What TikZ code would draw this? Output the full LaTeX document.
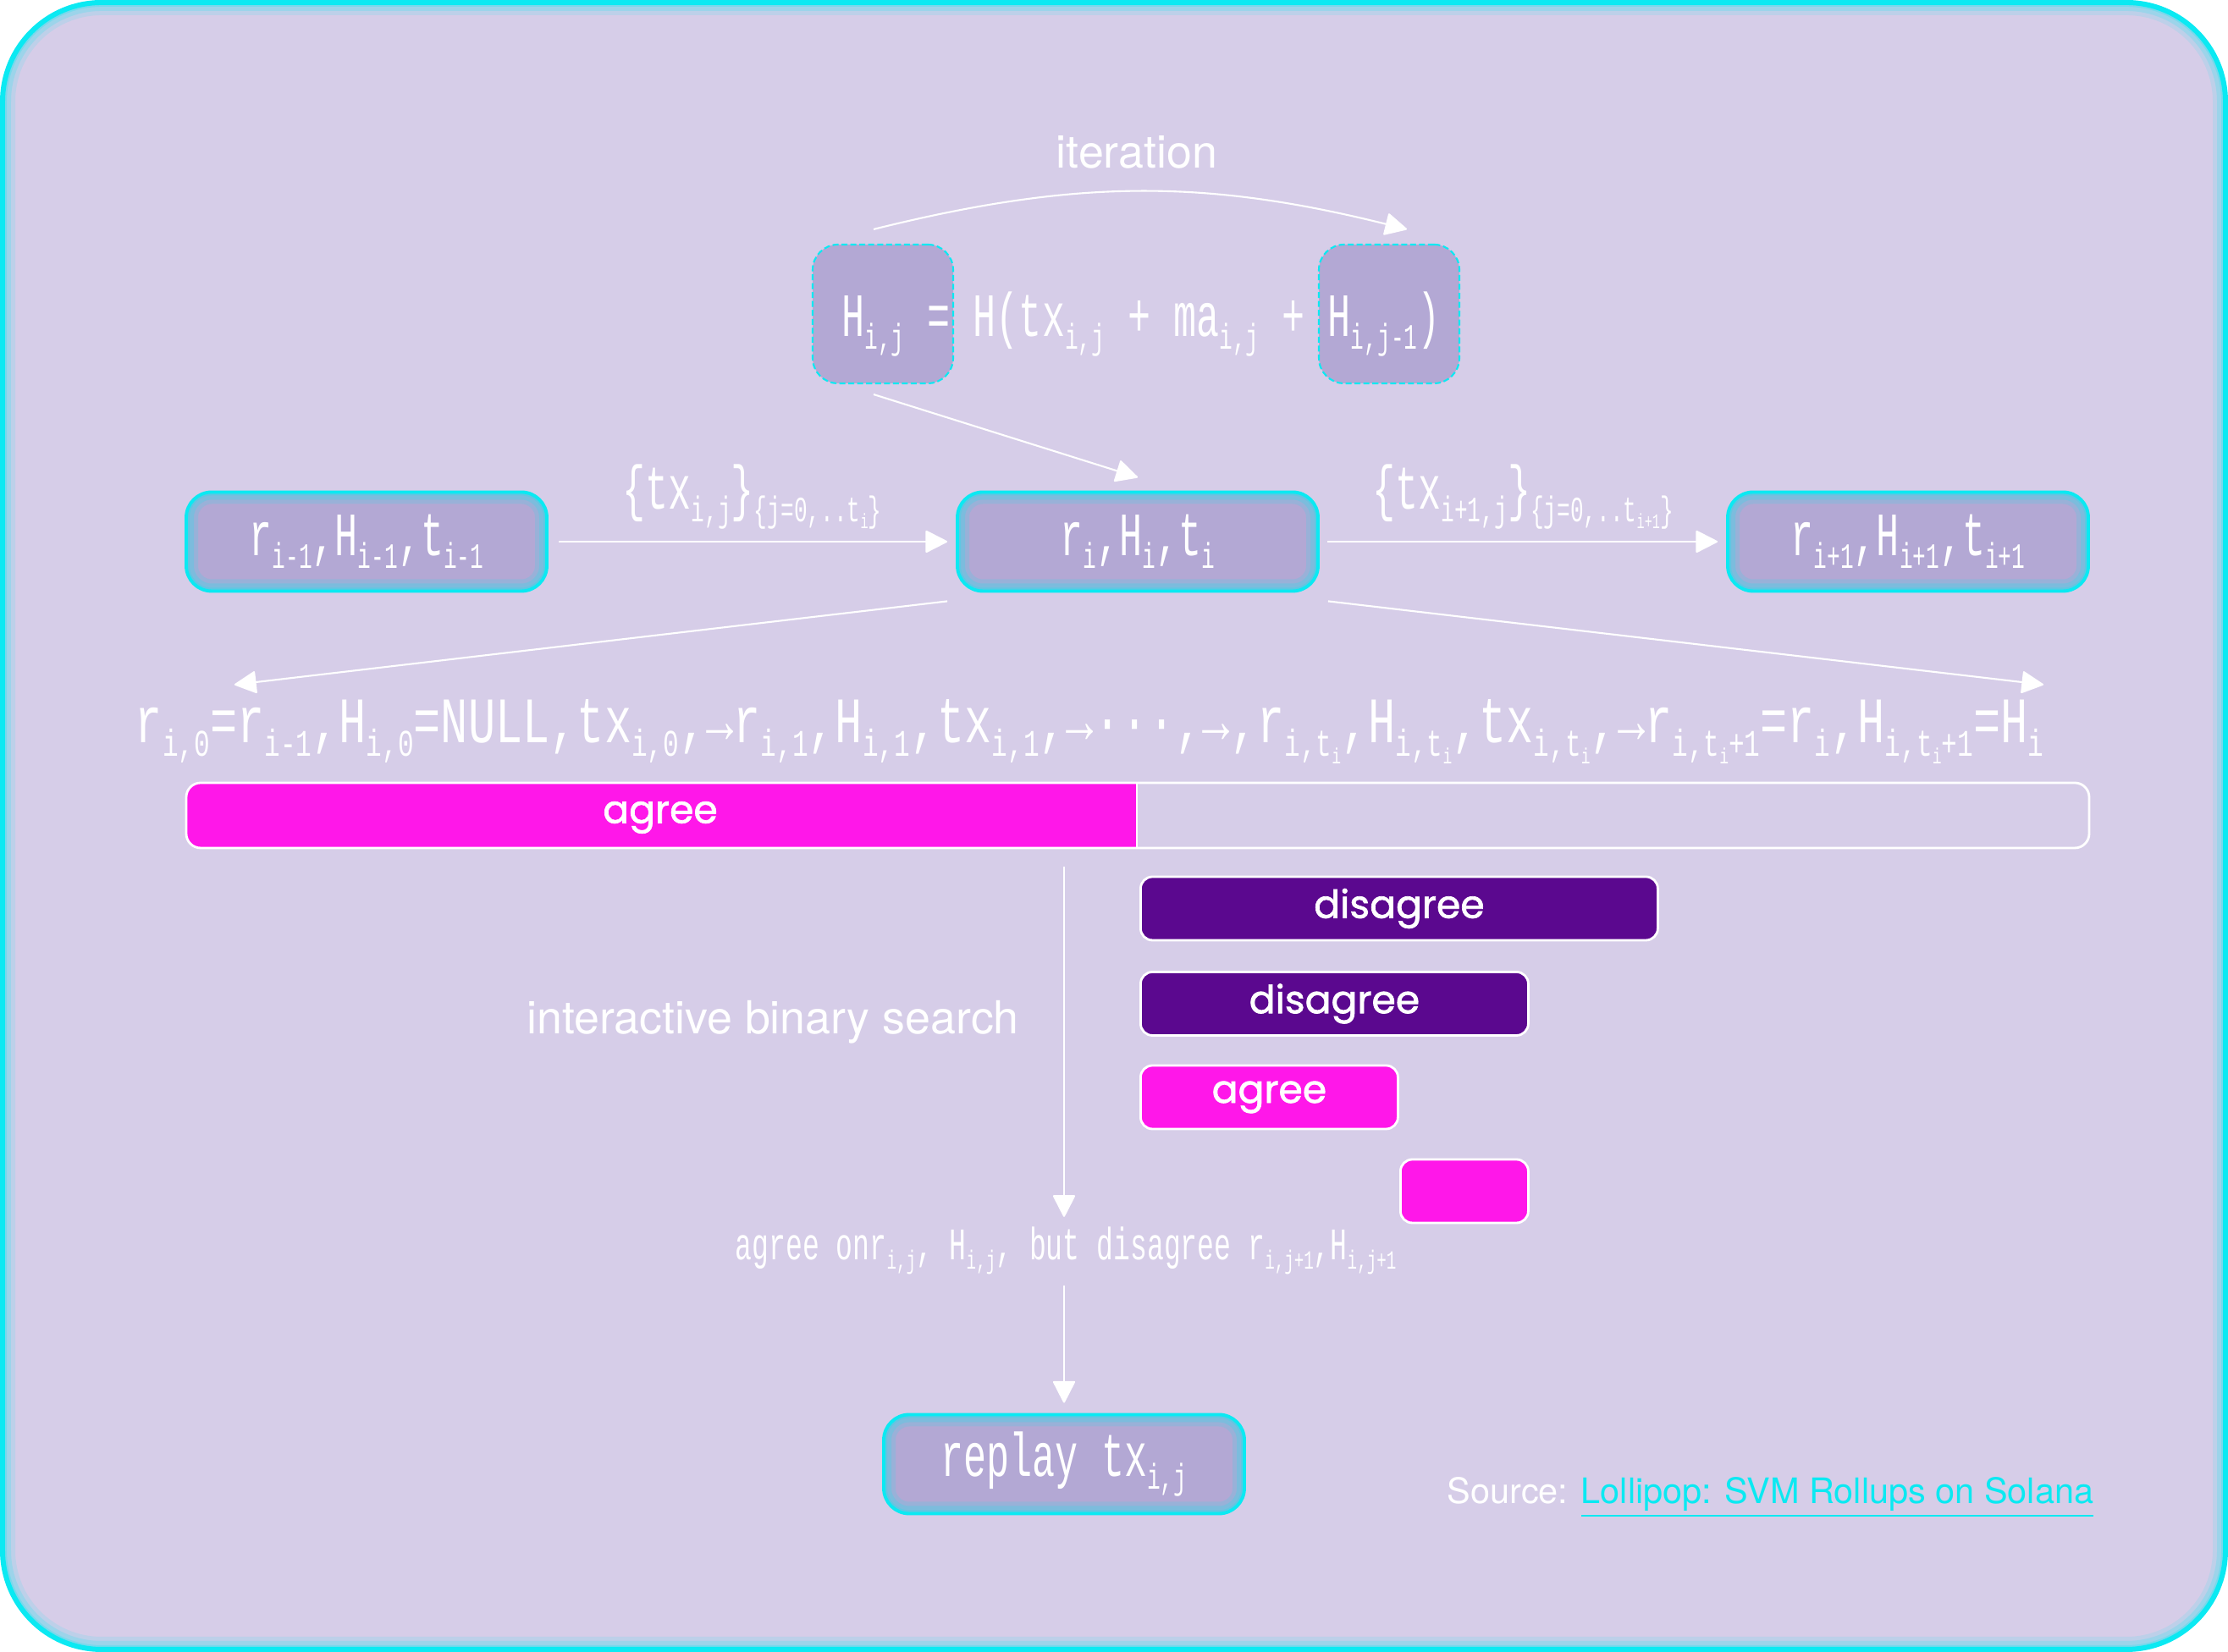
\documentclass[tikz,border=0pt]{standalone}
\usepackage{fontspec}
\usepackage{graphicx}
\usetikzlibrary{arrows.meta,positioning}
\setmainfont{TeX Gyre Heros}
\newfontfamily\monofont[FakeStretch=0.62]{Liberation Mono}
\newfontfamily\seqfont[FakeStretch=0.70]{Liberation Mono}
\newfontfamily\labelfont[FakeBold=1.5]{Poppins}
\newcommand\sub[1]{\raisebox{-0.2em}{\scalebox{0.58}{#1}}}
\definecolor{bgfill}{HTML}{D6CDE8}
\definecolor{boxfill}{HTML}{B3A8D4}
\definecolor{glowcyan}{HTML}{0BE9F2}
\definecolor{agreepink}{HTML}{FF17E9}
\definecolor{disagreepurple}{HTML}{5B088F}
\tikzset{
  innerglow/.style={path picture={
    \foreach \w/\o in {0.28/0.15,0.18/0.2,0.08/0.25}
      \draw[glowcyan, opacity=\o, line width=\w cm, rounded corners=#1]
        (path picture bounding box.south west) rectangle (path picture bounding box.north east);}},
  statebox/.style={draw=glowcyan, line width=1.1pt, fill=boxfill, rounded corners=0.3cm, innerglow=0.3cm,
    minimum width=4.26cm, minimum height=1.17cm, text=white, font=\monofont\fontsize{20.7}{22}\selectfont},
  hashbox/.style={draw=glowcyan, dash pattern=on 2pt off 1pt, line width=0.6pt, fill=boxfill,
    rounded corners=0.3cm, minimum width=1.66cm, minimum height=1.64cm},
  stepbar/.style={draw=white, line width=0.8pt, rounded corners=0.14cm, minimum height=0.75cm, anchor=west,
    text=white, font=\labelfont\fontsize{13}{15}\selectfont},
  mathtext/.style={text=white, font=\monofont\fontsize{20.7}{22}\selectfont},
  plaintext/.style={text=white, font=\fontsize{15.3}{18}\selectfont},
  link/.style={white, line width=0.6pt, -{Triangle[length=0.27cm,width=0.27cm,round]}}
}
\begin{document}
\begin{tikzpicture}
    % frame
    \useasboundingbox (0,0) rectangle (26.32,19.52);
    \fill[bgfill, rounded corners=1.17cm] (0.03,0.03) rectangle (26.29,19.49);
    \begin{scope}
      \clip[rounded corners=1.17cm] (0.03,0.03) rectangle (26.29,19.49);
      \foreach \w/\o in {0.3/0.12,0.2/0.18,0.1/0.25}
        \draw[glowcyan, opacity=\o, line width=\w cm, rounded corners=1.17cm] (0.03,0.03) rectangle (26.29,19.49);
    \end{scope}
    \draw[glowcyan, line width=1.7pt, rounded corners=1.17cm] (0.03,0.03) rectangle (26.29,19.49);

    % hash chain
    \node[hashbox] (hprev) at (10.43,15.81) {}; \node[hashbox] (hcur) at (16.41,15.81) {};
    \node[mathtext, anchor=base] (hashrule) at (13.48,15.54) {H\sub{i,j} = H(tx\sub{i,j} + ma\sub{i,j} + H\sub{i,j-1})};
    \node[plaintext] (iterlabel) at (13.43,17.72) {iteration};
    \draw[link] ([shift={(-0.11,0.17)}]hprev.north) to[bend left=14] ([shift={(0.21,0.17)}]hcur.north);

    % states
    \node[statebox] (prev) at (4.33,13.12) {r\sub{i-1},H\sub{i-1},t\sub{i-1}};
    \node[statebox] (cur) at (13.44,13.12) {r\sub{i},H\sub{i},t\sub{i}};
    \node[statebox] (next) at (22.54,13.12) {r\sub{i+1},H\sub{i+1},t\sub{i+1}};
    \draw[link, shorten <=0.12cm, shorten >=0.1cm] (prev) -- node[mathtext, above=0.02cm] (txprev) {\{tx\sub{i,j}\}\sub{\{j=0,..t\sub{i}\}}} (cur);
    \draw[link, shorten <=0.09cm, shorten >=0.1cm] (cur) -- node[mathtext, above=0.02cm] (txnext) {\{tx\sub{i+1,j}\}\sub{\{j=0,..t\sub{i+1}\}}} (next);
    \draw[link] ([shift={(-0.11,-0.12)}]hprev.south) -- ([yshift=0.155cm]cur.north);

    % replay sequence
    \coordinate (seqL) at (2.77,11.43); \coordinate (seqR) at (24.14,11.43);
    \draw[link] ([shift={(-0.1,-0.1)}]cur.south west) -- (seqL);
    \draw[link] ([shift={(0.1,-0.1)}]cur.south east) -- (seqR);
    \node[text=white, font=\seqfont\fontsize{21.8}{23}\selectfont, anchor=base] (seq) at (12.87,10.74)
      {r\sub{i,0}=r\sub{i-1},H\sub{i,0}=NULL,tx\sub{i,0},→r\sub{i,1},H\sub{i,1},tx\sub{i,1},→···,→,r\sub{i,t\sub{i}},H\sub{i,t\sub{i}},tx\sub{i,t\sub{i}},→r\sub{i,t\sub{i}+1}=r\sub{i},H\sub{i,t\sub{i}+1}=H\sub{i}};

    % agreement bar
    \begin{scope}
      \clip (2.2,9.5) rectangle (13.43,10.27);
      \fill[agreepink, rounded corners=0.17cm] (2.2,9.5) rectangle (24.68,10.27);
    \end{scope}
    \draw[white, line width=0.8pt, rounded corners=0.17cm] (2.2,9.5) rectangle (24.68,10.27);
    \draw[white, line width=0.8pt] (13.43,9.5) -- (13.43,10.27);
    \node[text=white, font=\labelfont\fontsize{13}{15}\selectfont] (agreeall) at (7.80,9.86) {agree};

    % binary search
    \foreach \n/\c/\w/\x/\y/\t in {dis1/disagreepurple/6.11/13.46/8.785/disagree, dis2/disagreepurple/4.58/13.46/7.66/disagree,
        agr3/agreepink/3.04/13.46/6.555/agree, last/agreepink/1.51/16.53/5.445/}
      \node[stepbar, fill=\c, minimum width=\w cm] (\n) at (\x,\y) {\t};
    \node[plaintext] (searchlabel) at (9.13,7.44) {interactive binary search};
    \coordinate (searchtop) at (12.57,9.28);
    \node[text=white, font=\monofont\fontsize{15.2}{17}\selectfont, anchor=base] (agreeon) at (12.59,4.63)
      {agree onr\sub{i,j}, H\sub{i,j}, but disagree r\sub{i,j+1},H\sub{i,j+1}};
    \draw[link] (searchtop) -- (searchtop |- agreeon.north);
    \node[statebox] (replay) at (12.57,2.22) {replay tx\sub{i,j}};
    \draw[link, shorten >=0.12cm] (searchtop |- agreeon.south) -- (replay.north);

    \node[text=white, font=\fontsize{11.8}{14}\selectfont, anchor=base] (source) at (20.915,1.75)
      {Source: \textcolor{glowcyan}{\underline{Lollipop: SVM Rollups on Solana}}};
\end{tikzpicture}
\end{document}
